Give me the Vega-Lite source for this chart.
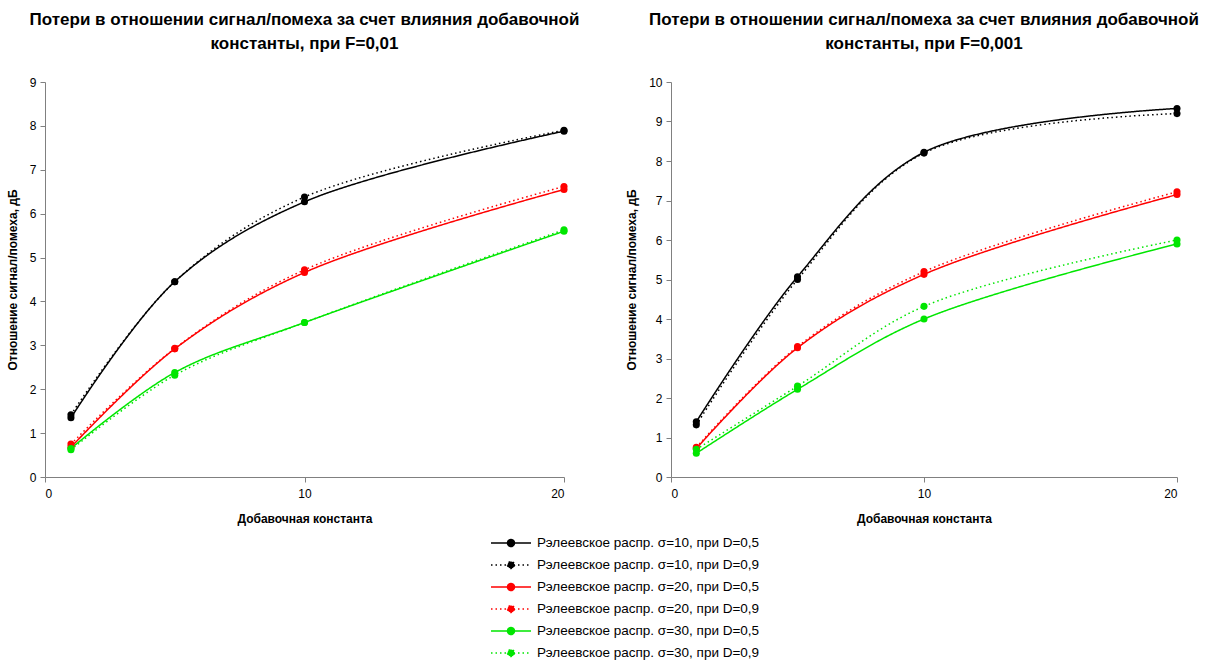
{
  "$schema": "https://vega.github.io/schema/vega-lite/v6.json",
  "padding": {"left": 6, "top": 11, "right": 5, "bottom": 0},
  "background": "white",
  "config": {
    "view": {"stroke": null},
    "font": "Liberation Sans",
    "axis": {"grid": false, "domainColor": "#808080", "tickColor": "#808080", "labelFont": "Liberation Sans", "labelFontSize": 12, "labelColor": "#000", "titleFont": "Liberation Sans", "titleFontSize": 12, "titleFontWeight": "bold", "titleColor": "#000", "tickSize": 5},
    "title": {"font": "Liberation Sans", "fontSize": 17, "fontWeight": "bold", "color": "#000", "anchor": "middle", "lineHeight": 24, "offset": 23},
    "concat": {"spacing": 45}
  },
  "data": {"values": [
    {"panel": "A", "series": "Рэлеевское распр. σ=10, при D=0,5", "x": 1, "y": 1.35},
    {"panel": "A", "series": "Рэлеевское распр. σ=10, при D=0,5", "x": 5, "y": 4.45},
    {"panel": "A", "series": "Рэлеевское распр. σ=10, при D=0,5", "x": 10, "y": 6.27},
    {"panel": "A", "series": "Рэлеевское распр. σ=10, при D=0,5", "x": 20, "y": 7.88},
    {"panel": "A", "series": "Рэлеевское распр. σ=10, при D=0,9", "x": 1, "y": 1.42},
    {"panel": "A", "series": "Рэлеевское распр. σ=10, при D=0,9", "x": 5, "y": 4.45},
    {"panel": "A", "series": "Рэлеевское распр. σ=10, при D=0,9", "x": 10, "y": 6.38},
    {"panel": "A", "series": "Рэлеевское распр. σ=10, при D=0,9", "x": 20, "y": 7.9},
    {"panel": "A", "series": "Рэлеевское распр. σ=20, при D=0,5", "x": 1, "y": 0.68},
    {"panel": "A", "series": "Рэлеевское распр. σ=20, при D=0,5", "x": 5, "y": 2.92},
    {"panel": "A", "series": "Рэлеевское распр. σ=20, при D=0,5", "x": 10, "y": 4.66},
    {"panel": "A", "series": "Рэлеевское распр. σ=20, при D=0,5", "x": 20, "y": 6.55},
    {"panel": "A", "series": "Рэлеевское распр. σ=20, при D=0,9", "x": 1, "y": 0.75},
    {"panel": "A", "series": "Рэлеевское распр. σ=20, при D=0,9", "x": 5, "y": 2.93},
    {"panel": "A", "series": "Рэлеевское распр. σ=20, при D=0,9", "x": 10, "y": 4.72},
    {"panel": "A", "series": "Рэлеевское распр. σ=20, при D=0,9", "x": 20, "y": 6.62},
    {"panel": "A", "series": "Рэлеевское распр. σ=30, при D=0,5", "x": 1, "y": 0.65},
    {"panel": "A", "series": "Рэлеевское распр. σ=30, при D=0,5", "x": 5, "y": 2.38},
    {"panel": "A", "series": "Рэлеевское распр. σ=30, при D=0,5", "x": 10, "y": 3.52},
    {"panel": "A", "series": "Рэлеевское распр. σ=30, при D=0,5", "x": 20, "y": 5.6},
    {"panel": "A", "series": "Рэлеевское распр. σ=30, при D=0,9", "x": 1, "y": 0.62},
    {"panel": "A", "series": "Рэлеевское распр. σ=30, при D=0,9", "x": 5, "y": 2.32},
    {"panel": "A", "series": "Рэлеевское распр. σ=30, при D=0,9", "x": 10, "y": 3.52},
    {"panel": "A", "series": "Рэлеевское распр. σ=30, при D=0,9", "x": 20, "y": 5.63},
    {"panel": "B", "series": "Рэлеевское распр. σ=10, при D=0,5", "x": 1, "y": 1.4},
    {"panel": "B", "series": "Рэлеевское распр. σ=10, при D=0,5", "x": 5, "y": 5.07},
    {"panel": "B", "series": "Рэлеевское распр. σ=10, при D=0,5", "x": 10, "y": 8.22},
    {"panel": "B", "series": "Рэлеевское распр. σ=10, при D=0,5", "x": 20, "y": 9.33},
    {"panel": "B", "series": "Рэлеевское распр. σ=10, при D=0,9", "x": 1, "y": 1.32},
    {"panel": "B", "series": "Рэлеевское распр. σ=10, при D=0,9", "x": 5, "y": 5.0},
    {"panel": "B", "series": "Рэлеевское распр. σ=10, при D=0,9", "x": 10, "y": 8.2},
    {"panel": "B", "series": "Рэлеевское распр. σ=10, при D=0,9", "x": 20, "y": 9.2},
    {"panel": "B", "series": "Рэлеевское распр. σ=20, при D=0,5", "x": 1, "y": 0.72},
    {"panel": "B", "series": "Рэлеевское распр. σ=20, при D=0,5", "x": 5, "y": 3.27},
    {"panel": "B", "series": "Рэлеевское распр. σ=20, при D=0,5", "x": 10, "y": 5.13},
    {"panel": "B", "series": "Рэлеевское распр. σ=20, при D=0,5", "x": 20, "y": 7.15},
    {"panel": "B", "series": "Рэлеевское распр. σ=20, при D=0,9", "x": 1, "y": 0.75},
    {"panel": "B", "series": "Рэлеевское распр. σ=20, при D=0,9", "x": 5, "y": 3.3},
    {"panel": "B", "series": "Рэлеевское распр. σ=20, при D=0,9", "x": 10, "y": 5.2},
    {"panel": "B", "series": "Рэлеевское распр. σ=20, при D=0,9", "x": 20, "y": 7.22},
    {"panel": "B", "series": "Рэлеевское распр. σ=30, при D=0,5", "x": 1, "y": 0.6},
    {"panel": "B", "series": "Рэлеевское распр. σ=30, при D=0,5", "x": 5, "y": 2.22},
    {"panel": "B", "series": "Рэлеевское распр. σ=30, при D=0,5", "x": 10, "y": 4.0},
    {"panel": "B", "series": "Рэлеевское распр. σ=30, при D=0,5", "x": 20, "y": 5.9},
    {"panel": "B", "series": "Рэлеевское распр. σ=30, при D=0,9", "x": 1, "y": 0.7},
    {"panel": "B", "series": "Рэлеевское распр. σ=30, при D=0,9", "x": 5, "y": 2.3},
    {"panel": "B", "series": "Рэлеевское распр. σ=30, при D=0,9", "x": 10, "y": 4.32},
    {"panel": "B", "series": "Рэлеевское распр. σ=30, при D=0,9", "x": 20, "y": 6.0}
  ]},
  "hconcat": [
    {
      "title": {"text": ["Потери в отношении сигнал/помеха за счет влияния добавочной", "константы, при F=0,01"]},
      "width": 519,
      "height": 395,
      "transform": [{"filter": "datum.panel === 'A'"}],
      "encoding": {
        "x": {"field": "x", "type": "quantitative", "scale": {"domain": [0, 20], "nice": false}, "axis": {"values": [0, 10, 20], "title": "Добавочная константа", "titlePadding": 14, "labelPadding": 6}},
        "y": {"field": "y", "type": "quantitative", "scale": {"domain": [0, 9], "nice": false}, "axis": {"values": [0,1,2,3,4,5,6,7,8,9], "title": "Отношение сигнал/помеха, дБ", "titlePadding": 10, "labelPadding": 4}},
        "color": {"field": "series", "type": "nominal", "scale": {"domain": ["Рэлеевское распр. σ=10, при D=0,5", "Рэлеевское распр. σ=10, при D=0,9", "Рэлеевское распр. σ=20, при D=0,5", "Рэлеевское распр. σ=20, при D=0,9", "Рэлеевское распр. σ=30, при D=0,5", "Рэлеевское распр. σ=30, при D=0,9"], "range": ["#000000", "#000000", "#ff0000", "#ff0000", "#00e600", "#00e600"]}, "legend": {
          "orient": "none", "legendX": 455, "legendY": 450, "title": null, "direction": "vertical",
          "symbolType": "M-2,0H2M0.35,0A0.35,0.35,0,1,1,-0.35,0A0.35,0.35,0,1,1,0.35,0Z",
          "symbolSize": 400, "symbolStrokeWidth": 1.5, "labelFont": "Liberation Sans", "labelFontSize": 13.5, "labelColor": "#000", "labelOffset": 15, "rowPadding": 4, "labelLimit": 400,
          "encode": {"symbols": {"update": {"fill": {"scale": "color", "field": "value"}, "fillOpacity": {"value": 1}}}}
        }},
        "strokeDash": {"field": "series", "type": "nominal", "scale": {"domain": ["Рэлеевское распр. σ=10, при D=0,5", "Рэлеевское распр. σ=10, при D=0,9", "Рэлеевское распр. σ=20, при D=0,5", "Рэлеевское распр. σ=20, при D=0,9", "Рэлеевское распр. σ=30, при D=0,5", "Рэлеевское распр. σ=30, при D=0,9"], "range": [[1, 0], [1.5, 3], [1, 0], [1.5, 3], [1, 0], [1.5, 3]]}, "legend": {
          "orient": "none", "legendX": 455, "legendY": 450, "title": null, "direction": "vertical",
          "symbolType": "M-2,0H2M0.35,0A0.35,0.35,0,1,1,-0.35,0A0.35,0.35,0,1,1,0.35,0Z",
          "symbolSize": 400, "symbolStrokeWidth": 1.5, "labelFont": "Liberation Sans", "labelFontSize": 13.5, "labelColor": "#000", "labelOffset": 15, "rowPadding": 4, "labelLimit": 400,
          "encode": {"symbols": {"update": {"fill": {"scale": "color", "field": "value"}, "fillOpacity": {"value": 1}}}}
        }}
      },
      "layer": [
        {"mark": {"type": "line", "interpolate": "catmull-rom", "strokeWidth": 1.5}},
        {"mark": {"type": "point", "filled": true, "size": 50, "opacity": 1}, "encoding": {"strokeDash": {"value": [1, 0]}}}
      ]
    },
    {
      "title": {"text": ["Потери в отношении сигнал/помеха за счет влияния добавочной", "константы, при F=0,001"]},
      "width": 506,
      "height": 395,
      "transform": [{"filter": "datum.panel === 'B'"}],
      "encoding": {
        "x": {"field": "x", "type": "quantitative", "scale": {"domain": [0, 20], "nice": false}, "axis": {"values": [0, 10, 20], "title": "Добавочная константа", "titlePadding": 14, "labelPadding": 6}},
        "y": {"field": "y", "type": "quantitative", "scale": {"domain": [0, 10], "nice": false}, "axis": {"values": [0,1,2,3,4,5,6,7,8,9,10], "title": "Отношение сигнал/помеха, дБ", "titlePadding": 10, "labelPadding": 4}},
        "color": {"field": "series", "type": "nominal"},
        "strokeDash": {"field": "series", "type": "nominal"}
      },
      "layer": [
        {"mark": {"type": "line", "interpolate": "catmull-rom", "strokeWidth": 1.5}},
        {"mark": {"type": "point", "filled": true, "size": 50, "opacity": 1}, "encoding": {"strokeDash": {"value": [1, 0]}}}
      ]
    }
  ]
}
